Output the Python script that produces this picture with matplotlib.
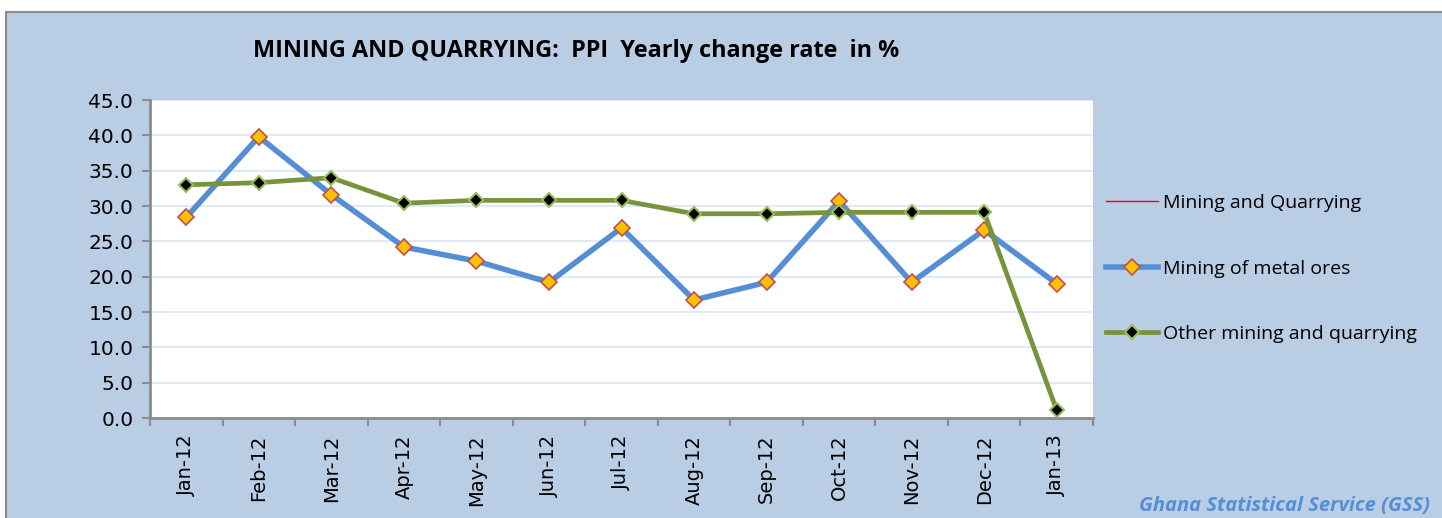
import matplotlib
matplotlib.use("Agg")
from matplotlib import pyplot as plt
from matplotlib.patches import Rectangle
import numpy as np

months = ["Jan-12", "Feb-12", "Mar-12", "Apr-12", "May-12", "Jun-12", "Jul-12",
          "Aug-12", "Sep-12", "Oct-12", "Nov-12", "Dec-12", "Jan-13"]
mining_quarrying = [28.4, 39.8, 31.6, 24.2, 22.2, 19.2, 26.9, 16.7, 19.2, 30.7, 19.2, 26.6, 18.7]
metal_ores = [28.4, 39.8, 31.6, 24.2, 22.2, 19.2, 26.9, 16.7, 19.2, 30.7, 19.2, 26.6, 19.0]
other_mining = [33.0, 33.3, 34.0, 30.4, 30.8, 30.8, 30.8, 28.9, 28.9, 29.1, 29.1, 29.1, 1.1]

bg = "#b9cde5"
fig = plt.figure(figsize=(14.42, 5.18), dpi=100, facecolor="white")
# chart panel with grey frame
fig.patches.append(Rectangle((6 / 1442, -0.01), 1.02, (518 - 12) / 518 + 0.01,
                             transform=fig.transFigure, facecolor=bg,
                             edgecolor="#8c8c8c", linewidth=1.5, zorder=-1))

ax = fig.add_axes([150 / 1442, 100 / 518, (1093 - 150) / 1442, 318 / 518])
x = np.arange(len(months))

ax.plot(x, mining_quarrying, color="#ff0000", linewidth=1, label="Mining and Quarrying", zorder=2)
ax.plot(x, metal_ores, color="#558ed5", linewidth=4, marker="D", markersize=8.5,
        markerfacecolor="#ffc000", markeredgecolor="#c0504d", markeredgewidth=1.2,
        label="Mining of metal ores", zorder=3)
ax.plot(x, other_mining, color="#77933c", linewidth=3.4, marker="D", markersize=7.5,
        markerfacecolor="black", markeredgecolor="#9bbb59", markeredgewidth=1.5,
        label="Other mining and quarrying", zorder=4)

ax.set_xlim(-0.5, 12.5)
ax.set_ylim(0, 45)
ax.set_yticks(np.arange(0, 46, 5))
ax.set_yticklabels(["%.1f" % v for v in np.arange(0, 46, 5)], fontsize=14.5)
ax.set_xticks(x)
ax.set_xticklabels(months, rotation=90, fontsize=14)
ax.set_xticks(np.arange(-0.5, 13, 1), minor=True)
ax.tick_params(axis="x", which="major", length=0, pad=12)
ax.tick_params(axis="x", which="minor", length=6, width=1.5, color="#8c8c8c")
ax.tick_params(axis="y", length=6, width=1.5, color="#8c8c8c", pad=6)
ax.grid(axis="y", color="#dce6f2", linewidth=1.2)
ax.set_axisbelow(True)
for side in ["top", "right"]:
    ax.spines[side].set_visible(False)
for side in ["left", "bottom"]:
    ax.spines[side].set_color("#8c8c8c")
    ax.spines[side].set_linewidth(2)

fig.text(253 / 1442, 1 - 51 / 518, "MINING AND QUARRYING:  PPI  Yearly change rate  in %",
         fontsize=16.8, fontweight="bold", family="Open Sans", va="center", ha="left")

leg = ax.legend(loc="center left", bbox_to_anchor=(0.995, 0.47), frameon=False,
                labelspacing=2.45, handlelength=2.7, handletextpad=0.25,
                prop={"family": "Open Sans", "size": 14})

fig.text(1430 / 1442, 1 - 506 / 518, "Ghana Statistical Service (GSS)", fontsize=14.5,
         fontweight="bold", fontstyle="italic", color="#558ed5", family="Open Sans",
         ha="right", va="center")

fig.savefig("out.png", dpi=100, facecolor="white")
